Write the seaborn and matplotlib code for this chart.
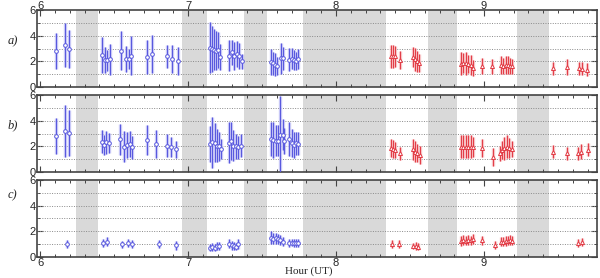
import matplotlib
matplotlib.use("Agg")
import matplotlib.pyplot as plt
from matplotlib.ticker import MultipleLocator
import seaborn as sns
import pandas as pd

# data gaps (hours UT), shaded grey
gaps = [(6.243, 6.392), (6.96, 7.13), (7.38, 7.53), (7.78, 8.34), (8.62, 8.82), (9.22, 9.44)]

# panel a
a_blue_t = [6.108, 6.171, 6.198, 6.419, 6.435, 6.455, 6.475, 6.545, 6.581, 6.601, 6.617, 6.721, 6.755,
            6.860, 6.890, 6.932, 7.149, 7.164, 7.178, 7.189, 7.203, 7.216, 7.279, 7.297, 7.313, 7.329,
            7.342, 7.363, 7.559, 7.577, 7.590, 7.604, 7.626, 7.640, 7.685, 7.703, 7.716, 7.730, 7.745]
a_blue_v = [2.84, 3.28, 2.97, 2.50, 2.12, 2.07, 2.17, 2.84, 2.20, 2.20, 2.45, 2.35, 2.58,
            2.40, 2.17, 2.00, 3.07, 2.97, 2.90, 2.84, 2.90, 2.33, 2.43, 2.69, 2.43, 2.58,
            2.43, 1.99, 1.96, 1.86, 1.73, 1.60, 2.25, 2.25, 2.12, 2.22, 2.12, 2.04, 2.17]
a_blue_e = [1.4, 1.7, 1.5, 1.4, 1.0, 0.8, 1.2, 1.5, 1.0, 0.8, 1.5, 1.3, 1.5,
            0.9, 1.1, 1.1, 2.0, 1.8, 1.6, 1.5, 1.4, 1.0, 1.2, 1.0, 1.1, 1.0,
            1.0, 0.6, 1.0, 0.9, 0.9, 0.7, 1.2, 0.9, 0.9, 0.8, 0.8, 0.7, 0.8]
a_red_t = [8.369, 8.385, 8.401, 8.432, 8.523, 8.534, 8.545, 8.561, 8.845, 8.860, 8.876, 8.894, 8.912,
           8.928, 8.984, 9.056, 9.115, 9.131, 9.147, 9.162, 9.176, 9.189, 9.468, 9.559, 9.642, 9.660, 9.698]
a_red_v = [2.38, 2.38, 2.38, 2.07, 2.33, 2.17, 1.99, 1.86, 1.81, 1.86, 1.86, 1.81, 1.73,
           1.47, 1.65, 1.60, 1.68, 1.65, 1.68, 1.68, 1.65, 1.60, 1.47, 1.55, 1.47, 1.42, 1.34]
a_red_e = [0.9, 0.9, 0.8, 0.7, 0.8, 0.9, 0.8, 0.7, 0.9, 0.8, 0.9, 0.7, 0.8,
           0.6, 0.6, 0.6, 0.7, 0.6, 0.7, 0.7, 0.6, 0.6, 0.5, 0.6, 0.5, 0.5, 0.5]

# panel b
b_blue_t = [6.108, 6.171, 6.198, 6.419, 6.432, 6.446, 6.464, 6.541, 6.568, 6.586, 6.604, 6.624, 6.725,
            6.784, 6.860, 6.887, 6.919, 7.149, 7.164, 7.182, 7.198, 7.212, 7.225, 7.279, 7.293, 7.306,
            7.322, 7.338, 7.356, 7.559, 7.577, 7.595, 7.610, 7.624, 7.640, 7.651, 7.685, 7.703, 7.716,
            7.730, 7.745]
b_blue_v = [2.84, 3.20, 3.07, 2.38, 2.12, 2.33, 2.25, 2.56, 1.99, 2.12, 2.17, 1.94, 2.50,
            2.17, 2.04, 1.94, 1.76, 2.17, 2.33, 2.30, 2.07, 2.00, 1.81, 2.30, 2.43, 2.07,
            2.00, 1.94, 2.07, 2.58, 2.50, 2.45, 2.43, 2.90, 2.90, 2.40, 2.58, 2.25, 2.12,
            2.25, 2.20]
b_blue_e = [1.4, 2.0, 1.8, 0.9, 0.8, 0.9, 0.8, 1.2, 1.2, 1.0, 1.0, 0.9, 1.2,
            1.1, 0.9, 0.8, 0.7, 1.4, 2.0, 1.5, 1.3, 1.1, 0.8, 1.6, 1.5, 1.2,
            1.0, 0.9, 0.9, 1.3, 1.4, 1.2, 1.2, 3.0, 1.2, 1.0, 1.3, 1.1, 1.0,
            0.9, 0.9]
b_red_t = [8.369, 8.385, 8.401, 8.432, 8.523, 8.536, 8.550, 8.565, 8.845, 8.860, 8.876, 8.892, 8.910,
           8.928, 8.984, 9.059, 9.108, 9.124, 9.137, 9.153, 9.171, 9.189, 9.468, 9.559, 9.638, 9.653, 9.705]
b_red_v = [1.91, 1.81, 1.73, 1.47, 1.78, 1.60, 1.47, 1.34, 1.99, 1.99, 1.99, 1.99, 1.99,
           1.94, 1.91, 1.21, 1.47, 1.73, 1.86, 1.99, 1.86, 1.81, 1.60, 1.47, 1.47, 1.60, 1.73]
b_red_e = [0.7, 0.7, 0.6, 0.5, 0.8, 0.8, 0.7, 0.7, 0.9, 0.9, 0.9, 0.9, 0.9,
           0.8, 0.7, 0.7, 0.6, 0.7, 0.9, 0.9, 0.8, 0.6, 0.5, 0.5, 0.5, 0.6, 0.5]

# panel c
c_blue_t = [6.180, 6.428, 6.455, 6.556, 6.592, 6.624, 6.806, 6.919, 7.149, 7.164, 7.182, 7.196, 7.209,
            7.279, 7.295, 7.311, 7.324, 7.340, 7.559, 7.577, 7.595, 7.610, 7.624, 7.640, 7.685, 7.703,
            7.716, 7.730, 7.745]
c_blue_v = [0.98, 1.06, 1.16, 0.98, 1.06, 0.98, 0.98, 0.90, 0.72, 0.77, 0.72, 0.82, 0.85,
            1.03, 0.90, 0.85, 0.80, 0.98, 1.50, 1.42, 1.44, 1.37, 1.31, 1.19, 1.06, 1.11,
            1.06, 1.08, 1.08]
c_blue_e = [0.3, 0.3, 0.35, 0.25, 0.3, 0.3, 0.3, 0.35, 0.3, 0.3, 0.3, 0.3, 0.3,
            0.35, 0.35, 0.3, 0.3, 0.4, 0.5, 0.45, 0.45, 0.4, 0.4, 0.35, 0.3, 0.3,
            0.3, 0.3, 0.3]
c_red_t = [8.380, 8.426, 8.523, 8.541, 8.556, 8.845, 8.860, 8.876, 8.892, 8.910, 8.928, 8.984, 9.074,
           9.115, 9.131, 9.147, 9.162, 9.176, 9.189, 9.633, 9.660]
c_red_v = [0.98, 0.98, 0.85, 0.85, 0.80, 1.24, 1.29, 1.24, 1.29, 1.31, 1.37, 1.31, 0.90,
           1.19, 1.16, 1.24, 1.24, 1.29, 1.24, 1.06, 1.16]
c_red_e = [0.3, 0.3, 0.25, 0.3, 0.3, 0.4, 0.4, 0.35, 0.4, 0.35, 0.4, 0.35, 0.3,
           0.35, 0.35, 0.4, 0.35, 0.4, 0.35, 0.3, 0.3]

hour_ticks = [6, 7, 8, 9]
panel_labels = ["a)", "b)", "c)"]

BLUE = "#5656de"
BLUE_LIGHT = "#babaf4"
RED = "#e23a44"
RED_LIGHT = "#f6b4b8"

sns.set_style("white")
plt.rcParams["font.family"] = ["Liberation Sans", "DejaVu Sans"]

fig = plt.figure(figsize=(6.0, 2.78), dpi=100)
# axes boxes in figure fraction: left, bottom, width, height
boxes = [(0.062, 0.687, 0.933, 0.277),
         (0.062, 0.381, 0.933, 0.277),
         (0.062, 0.076, 0.933, 0.277)]
label_y = [0.84, 0.54, 0.285]

panels = [
    (a_blue_t, a_blue_v, a_blue_e, a_red_t, a_red_v, a_red_e),
    (b_blue_t, b_blue_v, b_blue_e, b_red_t, b_red_v, b_red_e),
    (c_blue_t, c_blue_v, c_blue_e, c_red_t, c_red_v, c_red_e),
]

for i, (bt, bv, be, rt, rv, re) in enumerate(panels):
    ax = fig.add_axes(boxes[i])
    for g0, g1 in gaps:
        ax.axvspan(g0, g1, color="#d9d9d9", lw=0, zorder=0)
    for y in [1, 2, 3, 4, 5]:
        ax.axhline(y, color="#8a8a8a", lw=0.7, ls=(0, (1, 1.5)), zorder=1)

    blue = pd.DataFrame({"t": bt, "v": bv, "e": be})
    red = pd.DataFrame({"t": rt, "v": rv, "e": re})

    # light broad bars + thin dark bars
    ax.vlines(blue["t"], blue["v"] - blue["e"], blue["v"] + blue["e"], color=BLUE_LIGHT, lw=2.4, alpha=0.8, zorder=2)
    ax.vlines(blue["t"], blue["v"] - blue["e"], blue["v"] + blue["e"], color=BLUE, lw=0.7, zorder=3)
    ax.vlines(red["t"], red["v"] - red["e"], red["v"] + red["e"], color=RED_LIGHT, lw=2.4, alpha=0.8, zorder=2)
    ax.vlines(red["t"], red["v"] - red["e"], red["v"] + red["e"], color=RED, lw=0.7, zorder=3)

    sns.scatterplot(data=blue, x="t", y="v", ax=ax, marker="o", s=7, facecolor="white",
                    edgecolor=BLUE, linewidth=0.7, zorder=4)
    sns.scatterplot(data=red, x="t", y="v", ax=ax, marker="^", s=8, facecolor="white",
                    edgecolor=RED, linewidth=0.7, zorder=4)

    ax.set_xlim(5.98, 9.764)
    ax.set_ylim(0, 6)
    ax.set_xticks(hour_ticks)
    ax.xaxis.set_minor_locator(MultipleLocator(0.1))
    ax.set_yticks([0, 2, 4, 6])
    ax.yaxis.set_minor_locator(MultipleLocator(1))
    ax.tick_params(which="both", direction="in", top=True, right=True, bottom=True, left=True,
                   color="#444444", labelsize=8, pad=1.5)
    ax.tick_params(which="major", length=4, width=0.8)
    ax.tick_params(which="minor", length=2.2, width=0.7)
    ax.tick_params(axis="y", pad=1)
    if i == 0:
        ax.tick_params(axis="x", labeltop=True, labelbottom=False, pad=-1)
    elif i == 1:
        ax.tick_params(axis="x", labelbottom=False)
    else:
        ax.tick_params(axis="x", pad=0.5)
    ax.set_xlabel("")
    ax.set_ylabel("")
    for sp in ax.spines.values():
        sp.set_color("#444444")
        sp.set_linewidth(1.2)

    fig.text(0.012, label_y[i], panel_labels[i], fontsize=9, style="italic",
             family=["Liberation Serif", "DejaVu Serif"])

fig.text(0.515, 0.008, "Hour (UT)", fontsize=8, ha="center", va="bottom",
         family=["Liberation Serif", "DejaVu Serif"])

fig.savefig("out.png", dpi=100)
